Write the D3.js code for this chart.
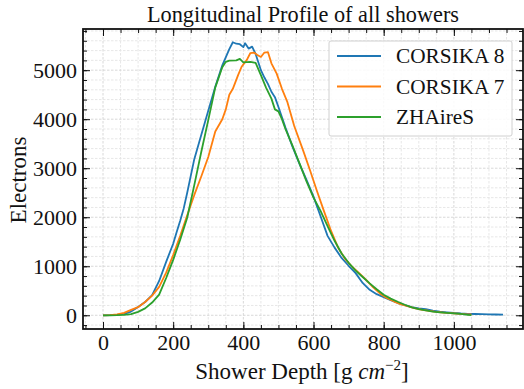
<!DOCTYPE html>
<html>
<head>
<meta charset="utf-8">
<script src="https://cdn.jsdelivr.net/npm/d3@7"></script>
<style>
  body { margin: 0; background: #fff; }
  svg text { font-family: "Liberation Serif", "DejaVu Serif", serif; fill: #111; }
</style>
</head>
<body>
<div id="chart"></div>
<script>
// CORSIKA 8
const c8Depth = [0, 20, 40, 60, 80, 100, 120, 140, 160, 180, 200, 210, 220, 230, 240, 260, 280, 300, 320, 340, 360, 370, 380, 390, 400, 405, 415, 425, 435, 450, 460, 470, 480, 490, 500, 520, 540, 560, 580, 600, 620, 640, 660, 680, 700, 720, 740, 760, 780, 800, 820, 840, 860, 880, 900, 920, 940, 960, 980, 1000, 1020, 1040, 1060, 1080, 1100, 1120, 1140];
const c8Elec = [0, 2, 10, 30, 75, 170, 270, 410, 700, 1090, 1460, 1700, 1930, 2180, 2500, 3180, 3680, 4170, 4660, 5100, 5430, 5570, 5540, 5530, 5470, 5550, 5440, 5480, 5330, 5000, 4850, 4720, 4560, 4450, 4250, 3830, 3440, 3090, 2760, 2420, 2020, 1620, 1380, 1170, 1010, 860, 660, 520, 430, 370, 310, 250, 205, 165, 140, 125, 95, 72, 60, 46, 36, 30, 26, 24, 20, 16, 14];

// CORSIKA 7
const c7Depth = [0, 20, 40, 60, 80, 100, 120, 140, 160, 180, 200, 220, 240, 260, 280, 300, 320, 340, 350, 360, 370, 385, 395, 410, 420, 430, 440, 450, 460, 470, 480, 495, 510, 525, 545, 570, 590, 610, 630, 650, 670, 690, 710, 730, 750, 770, 790, 810, 830, 850, 870, 890, 910, 930, 950, 970, 990, 1010, 1030, 1050];
const c7Elec = [0, 3, 20, 50, 110, 165, 270, 400, 580, 870, 1230, 1620, 2040, 2450, 2830, 3230, 3750, 4000, 4200, 4500, 4620, 4900, 5070, 5210, 5350, 5360, 5310, 5270, 5360, 5370, 5140, 4930, 4620, 4360, 3860, 3370, 2960, 2530, 2120, 1720, 1380, 1150, 990, 860, 720, 570, 440, 350, 280, 220, 180, 140, 110, 90, 68, 55, 45, 35, 25, 20];

// ZHAireS
const zhDepth = [0, 20, 40, 60, 80, 100, 120, 140, 160, 180, 200, 220, 240, 260, 280, 300, 320, 340, 350, 360, 380, 390, 400, 420, 435, 450, 465, 480, 490, 500, 510, 520, 540, 560, 580, 600, 620, 640, 660, 680, 700, 720, 740, 760, 780, 800, 820, 840, 860, 880, 900, 920, 940, 960, 980, 1000, 1020, 1040, 1050];
const zhElec = [0, 0, 3, 10, 25, 70, 140, 260, 420, 760, 1130, 1540, 1990, 2650, 3330, 3980, 4650, 5060, 5170, 5195, 5200, 5230, 5160, 5170, 5150, 4900, 4640, 4420, 4200, 4160, 4000, 3800, 3460, 3100, 2730, 2400, 2130, 1820, 1520, 1260, 1070, 910, 780, 650, 530, 420, 340, 275, 215, 160, 125, 100, 75, 60, 48, 38, 28, 10, 2];

const seriesNames = ["CORSIKA 8", "CORSIKA 7", "ZHAireS"];
const seriesColors = ["#1f77b4", "#ff7f0e", "#2ca02c"];

const xTicks = [0, 200, 400, 600, 800, 1000];
const yTicks = [0, 1000, 2000, 3000, 4000, 5000];

let w = 524, h = 389;
let mLeft = 83, mRight = 523, mTop = 29, mBottom = 329;

let svg = d3.select("#chart").append("svg")
    .attr("width", w)
    .attr("height", h);

let xScale = d3.scaleLinear().domain([-57, 1197]).range([mLeft, mRight]);
let yScale = d3.scaleLinear().domain([-280, 5840]).range([mBottom, mTop]);

let xMinor = d3.range(-50, 1197, 50);
let yMinor = d3.range(-200, 5840, 200);

// grid
let grid = svg.append("g");
grid.selectAll(".gx").data(xMinor).enter().append("line")
    .attr("x1", d => xScale(d)).attr("x2", d => xScale(d))
    .attr("y1", mTop).attr("y2", mBottom)
    .attr("stroke", d => d % 200 === 0 ? "#d4d4d4" : "#e4e4e4")
    .attr("stroke-width", 0.9)
    .attr("stroke-dasharray", "2.5,1.5");
grid.selectAll(".gy").data(yMinor).enter().append("line")
    .attr("y1", d => yScale(d)).attr("y2", d => yScale(d))
    .attr("x1", mLeft).attr("x2", mRight)
    .attr("stroke", d => d % 1000 === 0 ? "#d4d4d4" : "#e4e4e4")
    .attr("stroke-width", 0.9)
    .attr("stroke-dasharray", "2.5,1.5");

// lines
let data = [
    d3.zip(c8Depth, c8Elec),
    d3.zip(c7Depth, c7Elec),
    d3.zip(zhDepth, zhElec)
];
let line = d3.line().x(d => xScale(d[0])).y(d => yScale(d[1]));
svg.append("clipPath").attr("id", "clip")
    .append("rect").attr("x", mLeft).attr("y", mTop)
    .attr("width", mRight - mLeft).attr("height", mBottom - mTop);
svg.append("g").attr("clip-path", "url(#clip)")
    .selectAll("path").data(data).enter().append("path")
    .attr("d", line)
    .attr("fill", "none")
    .attr("stroke", (d, i) => seriesColors[i])
    .attr("stroke-width", 1.8)
    .attr("stroke-linejoin", "round");

// axes, ticks pointing inward
function styleAxis(g) {
    g.select(".domain").remove();
    g.selectAll("line").attr("stroke", "#111").attr("stroke-width", 1);
    g.selectAll("text").attr("font-size", "22px")
        .attr("font-family", "'Liberation Serif', serif").attr("fill", "#111");
}

svg.append("g").attr("transform", "translate(0," + mBottom + ")")
    .call(d3.axisBottom(xScale).tickValues(xMinor).tickSize(-4).tickFormat(""))
    .call(styleAxis);
svg.append("g").attr("transform", "translate(0," + mBottom + ")")
    .call(d3.axisBottom(xScale).tickValues(xTicks).tickSize(-7).tickPadding(5).tickFormat(d3.format("d")))
    .call(styleAxis);
svg.append("g").attr("transform", "translate(0," + mTop + ")")
    .call(d3.axisTop(xScale).tickValues(xMinor).tickSize(-4).tickFormat(""))
    .call(styleAxis);
svg.append("g").attr("transform", "translate(0," + mTop + ")")
    .call(d3.axisTop(xScale).tickValues(xTicks).tickSize(-7).tickFormat(""))
    .call(styleAxis);

svg.append("g").attr("transform", "translate(" + mLeft + ",0)")
    .call(d3.axisLeft(yScale).tickValues(yMinor).tickSize(-4).tickFormat(""))
    .call(styleAxis);
svg.append("g").attr("transform", "translate(" + mLeft + ",0)")
    .call(d3.axisLeft(yScale).tickValues(yTicks).tickSize(-7).tickPadding(6).tickFormat(d3.format("d")))
    .call(styleAxis);
svg.append("g").attr("transform", "translate(" + mRight + ",0)")
    .call(d3.axisRight(yScale).tickValues(yMinor).tickSize(-4).tickFormat(""))
    .call(styleAxis);
svg.append("g").attr("transform", "translate(" + mRight + ",0)")
    .call(d3.axisRight(yScale).tickValues(yTicks).tickSize(-7).tickFormat(""))
    .call(styleAxis);

// frame
svg.append("rect")
    .attr("x", mLeft).attr("y", mTop)
    .attr("width", mRight - mLeft).attr("height", mBottom - mTop)
    .attr("fill", "none").attr("stroke", "#111").attr("stroke-width", 1.8);

// legend
let legend = svg.append("g");
legend.append("rect")
    .attr("x", 329).attr("y", 41).attr("width", 183).attr("height", 95)
    .attr("rx", 2)
    .attr("fill", "white").attr("fill-opacity", 0.85)
    .attr("stroke", "#d0d0d0").attr("stroke-width", 1);
seriesNames.forEach((name, i) => {
    let yy = 56 + i * 30.5;
    legend.append("line")
        .attr("x1", 337).attr("x2", 381).attr("y1", yy).attr("y2", yy)
        .attr("stroke", seriesColors[i]).attr("stroke-width", 1.8);
    legend.append("text")
        .attr("x", 396).attr("y", yy + 7)
        .attr("font-size", "21.3px")
        .text(name);
});

// title and labels
svg.append("text")
    .attr("x", (mLeft + mRight) / 2).attr("y", 22)
    .attr("text-anchor", "middle")
    .attr("font-size", "22.3px")
    .text("Longitudinal Profile of all showers");

let xl = svg.append("text")
    .attr("x", 302).attr("y", 379)
    .attr("text-anchor", "middle")
    .attr("font-size", "23px");
xl.append("tspan").text("Shower Depth [g ");
xl.append("tspan").attr("font-style", "italic").text("cm");
xl.append("tspan").attr("font-size", "15px").attr("dy", -9).text("−2");
xl.append("tspan").attr("dy", 9).text("]");

svg.append("text")
    .attr("transform", "translate(26,180) rotate(-90)")
    .attr("text-anchor", "middle")
    .attr("font-size", "23px")
    .text("Electrons");
</script>
</body>
</html>
